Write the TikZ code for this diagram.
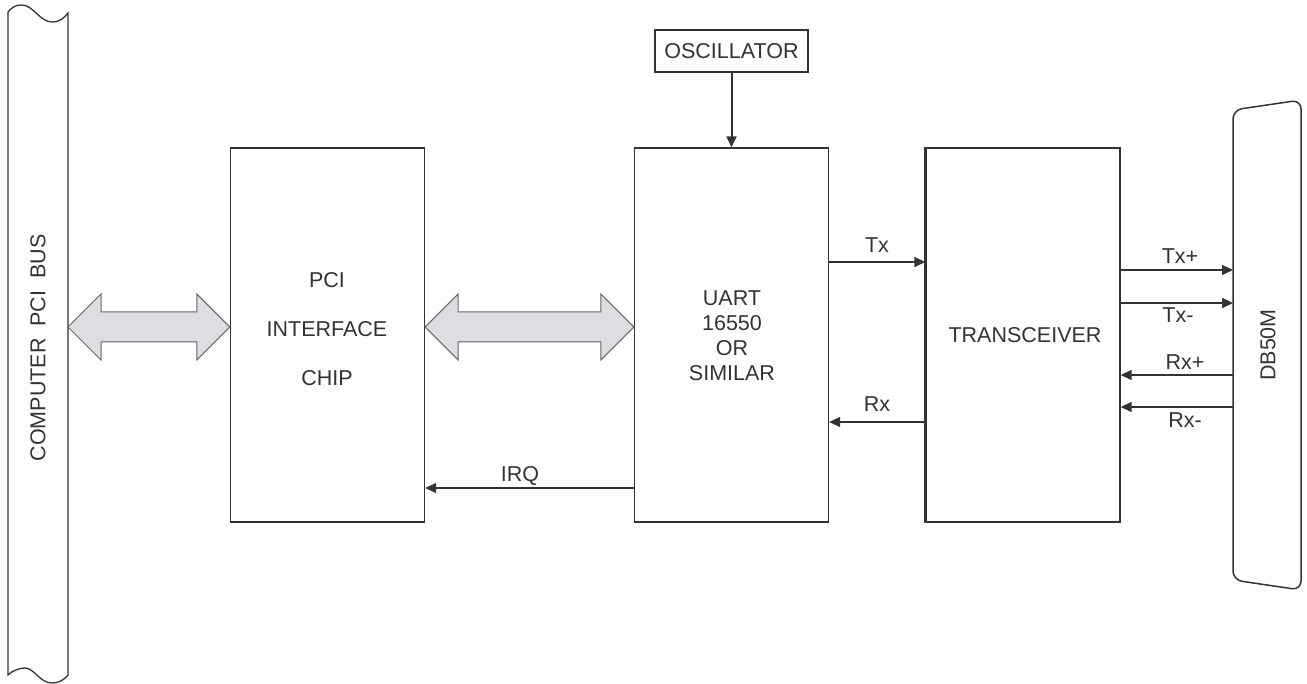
\documentclass[tikz,border=0pt]{standalone}
\usepackage{fontspec}
\setmainfont{Liberation Sans}
\usetikzlibrary{arrows.meta}
\usetikzlibrary{calc}

\definecolor{ink}{HTML}{333333}
\definecolor{shade}{HTML}{DCDEE2}

\newcommand{\fatarrow}[2]{%
\draw[fat] let \p1=(#1), \p2=(#2) in
 (\x1,\y1) -- (\x1+33pt,\y1+33pt) -- (\x1+33pt,\y1+15pt) -- (\x2-33pt,\y1+15pt)
 -- (\x2-33pt,\y1+33pt) -- (\x2,\y1) -- (\x2-33pt,\y1-33pt) -- (\x2-33pt,\y1-15pt)
 -- (\x1+33pt,\y1-15pt) -- (\x1+33pt,\y1-33pt) -- cycle;}

\begin{document}
\begin{tikzpicture}[x=1pt,y=-1pt,
  font=\fontsize{21.5}{25}\selectfont, text=ink,
  blk/.style={draw=ink, line width=1.3pt, minimum width=194pt, minimum height=374pt, inner sep=0pt},
  sig/.style={draw=ink, line width=1.3pt, -{Triangle[length=11pt,width=10pt]}},
  fat/.style={draw=ink!75, fill=shade, line width=1pt}]

\useasboundingbox (0,0) rectangle (1307,684);

\draw[ink, line width=1.3pt] (8,12) .. controls (13,6) and (17,5) .. (22,5)
  .. controls (33,5) and (40,22) .. (52,22) .. controls (60,22) and (64,18) .. (68,13)
  -- (68,675) .. controls (63,681) and (58,683) .. (52,683)
  .. controls (40,683) and (34,668) .. (25,668) .. controls (19,668) and (12,671) .. (8,675) -- cycle;
\node[rotate=90] (buslbl) at (38,348) {COMPUTER\ \ PCI\ \ BUS};
\coordinate (bus) at (68,327);

\node[blk] (pci) at (327.5,335) {};
\node[blk] (uart) at (731.5,335) {};
\node[blk] (tr) at (1023,335) {};
\draw[ink, line width=2.4pt] (tr.north west) -- (tr.south west);
\node[draw=ink, line width=1.6pt, minimum width=153pt, minimum height=42pt, inner sep=0pt] (osc) at (731.5,51) {};

\node[align=center, font=\fontsize{21.5}{49}\selectfont] (pcilbl) at (327,329) {PCI\\INTERFACE\\CHIP};
\node[align=center, font=\fontsize{21.5}{25}\selectfont] (uartlbl) at (732,335.5) {UART\\16550\\OR\\SIMILAR};
\node (trlbl) at (1025,335) {TRANSCEIVER};
\node (osclbl) at (osc) {OSCILLATOR};

\fatarrow{bus}{pci.west}
\fatarrow{pci.east |- bus}{uart.west}

\draw[sig, line width=2pt] (osc.south) -- (uart.north);

\coordinate (tx) at (877,262);
\coordinate (rx) at (877,422);
\coordinate (irq) at (520,488);
\draw[sig] (uart.east |- tx) -- (tr.west |- tx);
\draw[sig] (tr.west |- rx) -- (uart.east |- rx);
\draw[sig] (uart.west |- irq) -- (pci.east |- irq);
\node (txlbl) at (877,245) {Tx};
\node (rxlbl) at (877,404) {Rx};
\node (irqlbl) at (520,476) {IRQ};

\draw[ink, line width=1.5pt, rounded corners=9pt] (1233,580) -- (1233,110) -- (1301,100) -- (1301,590) -- cycle;
\node[rotate=90] (dblbl) at (1268,345) {DB50M};

\coordinate (txp) at (1233,270);
\coordinate (txm) at (1233,303);
\coordinate (rxp) at (1233,375);
\coordinate (rxm) at (1233,407);
\draw[sig] (tr.east |- txp) -- (txp);
\draw[sig, line width=2.2pt] (tr.east |- txm) -- (txm);
\draw[sig] (rxp) -- (tr.east |- rxp);
\draw[sig] (rxm) -- (tr.east |- rxm);
\node (txplbl) at (1180,256) {Tx+};
\node (txmlbl) at (1178,315) {Tx-};
\node (rxplbl) at (1185,362) {Rx+};
\node (rxmlbl) at (1185,420) {Rx-};

\end{tikzpicture}
\end{document}
